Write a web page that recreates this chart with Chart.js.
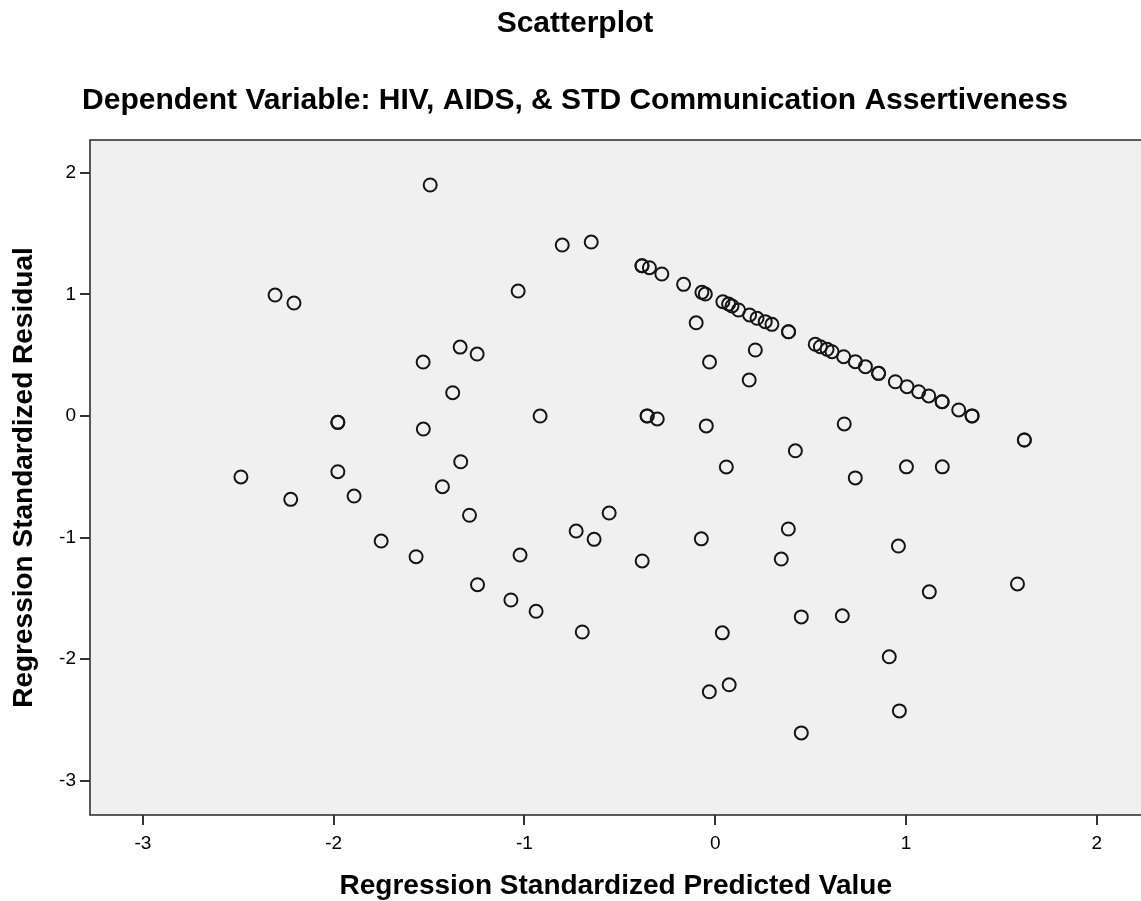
<!DOCTYPE html>
<html>
<head>
<meta charset="utf-8">
<title>Scatterplot</title>
<script src="https://cdn.jsdelivr.net/npm/chart.js@4/dist/chart.umd.min.js"></script>
<style>
  html, body { margin: 0; background: #fff; overflow: hidden; }
  /* a few px wider than the window: the point overflow padding on the right falls off-screen,
     so the grey plot runs to the window edge like the original */
  #wrap { width: 1150px; height: 901px; }
</style>
</head>
<body>
<div id="wrap"><canvas id="scatter"></canvas></div>
<script>
// standardized predicted value (x) and standardized residual (y)
const predicted = [
  -1.494, -2.307, -2.208, -0.802, -0.650, -1.033, -1.337, -1.248, -1.531, -1.376,
  -1.530, -1.978, -1.978, -0.918, -2.486, -1.978, -2.225, -1.893, -1.334, -1.430,
  -1.288, -1.751, -1.568, -1.023, -1.246, -1.071, -0.939, -0.697, -0.729, -0.635,
  -0.556, -0.383, -0.357, -0.357, -0.304, -0.100, -0.030, -0.047, 0.058, -0.073,
  0.037, -0.031, 0.073, 0.210, 0.178, 0.420, 0.383, 0.346, 0.451, 0.451,
  0.676, 0.734, 0.666, 0.912, 0.960, 1.002, 0.965, 1.190, 1.122, 1.584,
  1.620, 1.620
];
const residual = [
  1.899, 0.994, 0.928, 1.405, 1.430, 1.027, 0.566, 0.509, 0.443, 0.191,
  -0.108, -0.053, -0.053, -0.001, -0.502, -0.459, -0.686, -0.659, -0.377, -0.582,
  -0.817, -1.029, -1.158, -1.144, -1.388, -1.514, -1.607, -1.777, -0.947, -1.015,
  -0.799, -1.193, 0.000, 0.000, -0.025, 0.766, 0.443, -0.082, -0.420, -1.011,
  -1.784, -2.269, -2.211, 0.542, 0.295, -0.287, -0.930, -1.177, -1.653, -2.607,
  -0.066, -0.510, -1.644, -1.981, -1.070, -0.419, -2.426, -0.419, -1.447, -1.382,
  -0.198, -0.198
];

// the cases that sit on the straight band at the upper right
const bandPredicted = [
  -0.384, -0.384, -0.345, -0.280, -0.166, -0.070, -0.052, 0.040, 0.070, 0.088,
  0.122, 0.180, 0.219, 0.262, 0.297, 0.384, 0.384, 0.524, 0.551, 0.586,
  0.612, 0.673, 0.734, 0.787, 0.856, 0.856, 0.944, 1.005, 1.066, 1.119,
  1.189, 1.189, 1.276, 1.346, 1.346
];
const bandResidual = [
  1.235, 1.235, 1.219, 1.167, 1.082, 1.016, 1.002, 0.939, 0.920, 0.904,
  0.871, 0.830, 0.803, 0.775, 0.753, 0.692, 0.692, 0.589, 0.569, 0.548,
  0.528, 0.487, 0.446, 0.405, 0.350, 0.350, 0.281, 0.240, 0.199, 0.164,
  0.117, 0.117, 0.049, 0.000, 0.000
];

const xRange = [-3.277, 2.234];
const yRange = [-3.282, 2.269];

const points = predicted.map((x, i) => ({ x: x, y: residual[i] }))
  .concat(bandPredicted.map((x, i) => ({ x: x, y: bandResidual[i] })));

// grey plot background and the dark frame round it
const plotFrame = {
  id: "plotFrame",
  beforeDraw(chart) {
    const { ctx, chartArea } = chart;
    ctx.save();
    ctx.fillStyle = "#f0f0f0";
    ctx.fillRect(chartArea.left, chartArea.top, chartArea.right - chartArea.left, chartArea.bottom - chartArea.top);
    ctx.restore();
  },
  afterDraw(chart) {
    const { ctx, chartArea } = chart;
    ctx.save();
    ctx.strokeStyle = "#333";
    ctx.lineWidth = 1.6;
    ctx.strokeRect(chartArea.left, chartArea.top, chartArea.right - chartArea.left + 2, chartArea.bottom - chartArea.top);
    ctx.restore();
  }
};

Chart.defaults.font.family = "'Liberation Sans', Arial, sans-serif";
Chart.defaults.color = "#000";

new Chart(document.getElementById("scatter"), {
  type: "scatter",
  data: {
    datasets: [{
      data: points,
      pointStyle: "circle",
      pointRadius: 6.5,
      pointHoverRadius: 6.5,
      pointBorderWidth: 2,
      pointBorderColor: "#151515",
      pointBackgroundColor: "rgba(0,0,0,0)"
    }]
  },
  options: {
    responsive: true,
    maintainAspectRatio: false,
    animation: false,
    layout: { padding: 0 },
    plugins: {
      legend: { display: false },
      tooltip: { enabled: false },
      title: {
        display: true,
        text: "Scatterplot",
        font: { size: 30, weight: "bold" },
        color: "#000",
        padding: { top: 6, bottom: 41 }
      },
      subtitle: {
        display: true,
        text: "Dependent Variable: HIV, AIDS, & STD Communication Assertiveness",
        font: { size: 30, weight: "bold" },
        color: "#000",
        padding: { top: 0, bottom: 21 }
      }
    },
    scales: {
      x: {
        type: "linear",
        position: "bottom",
        min: xRange[0],
        max: xRange[1],
        afterFit(scale) {
          scale.height = 86;
          scale.paddingLeft = 0;
          scale.paddingRight = 0;
        },
        border: { display: false },
        grid: { drawOnChartArea: false, drawTicks: true, tickLength: 10, color: "#333", lineWidth: 2 },
        ticks: { stepSize: 1, includeBounds: false, padding: 7, font: { size: 19 }, color: "#000" },
        title: {
          display: true,
          text: "Regression Standardized Predicted Value",
          font: { size: 28, weight: "bold" },
          color: "#000",
          padding: { top: 0, bottom: -2 }
        }
      },
      y: {
        type: "linear",
        min: yRange[0],
        max: yRange[1],
        afterFit(scale) {
          scale.width = 90;
          scale.paddingTop = 0;
          scale.paddingBottom = 0;
        },
        border: { display: false },
        grid: { drawOnChartArea: false, drawTicks: true, tickLength: 10, color: "#333", lineWidth: 2 },
        ticks: { stepSize: 1, includeBounds: false, padding: 4, font: { size: 19 }, color: "#000" },
        title: {
          display: true,
          text: "Regression Standardized Residual",
          font: { size: 28, weight: "bold" },
          color: "#000",
          padding: { top: 7, bottom: 0 }
        }
      }
    }
  },
  plugins: [plotFrame]
});
</script>
</body>
</html>
